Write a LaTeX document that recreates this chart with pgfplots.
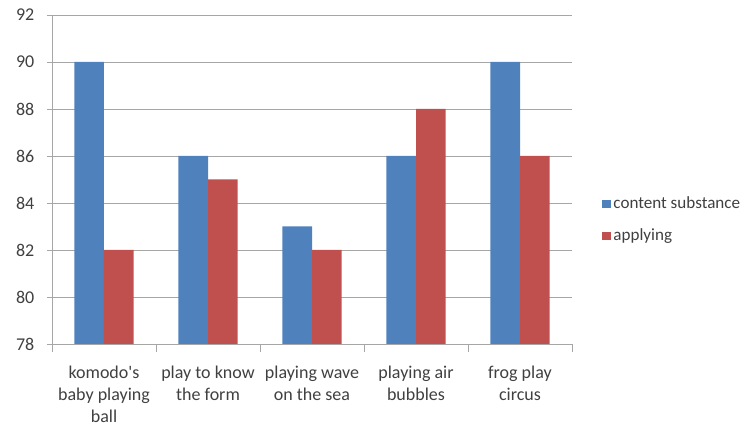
\documentclass[border=0pt]{standalone}
\usepackage{fontspec}
\setmainfont{Carlito}
\newfontfamily\plainfont{Carlito}
\usepackage{pgfplots}
\pgfplotsset{compat=1.18}
\definecolor{cblue}{HTML}{4F81BD}
\definecolor{cred}{HTML}{C0504D}
\definecolor{ctext}{HTML}{404040}
\definecolor{cgrid}{HTML}{A6A6A6}
\begin{document}
\begin{tikzpicture}[x=0.75pt,y=0.75pt]
\path[use as bounding box] (-52,-83) rectangle (695,344);
\begin{axis}[
  at={(0,0)}, anchor=south west,
  scale only axis,
  width=390pt, height=246.75pt,
  xmin=0.5, xmax=5.5,
  ymin=78, ymax=92,
  ytick={78,80,...,92},
  xtick={1,2,3,4,5},
  minor xtick={0.5,1.5,...,5.5},
  xticklabels={{{\plainfont komodo's}\\baby playing\\ball},{play to know\\the form},{playing wave\\on the sea},{playing air\\bubbles},{frog play\\circus}},
  axis lines*=left,
  axis line style={cgrid},
  ymajorgrids,
  grid style={cgrid, line width=0.6pt},
  tick align=outside,
  major tick length=3.75pt,
  minor tick length=6pt,
  major x tick style={draw=none},
  every tick/.style={cgrid},
  minor x tick style={cgrid},
  /pgf/number format/assume math mode=true,
  ticklabel style={font=\fontsize{13.5}{16.5}\selectfont, text=ctext},
  xticklabel style={align=center, yshift=-9pt},
  yticklabel style={xshift=-6pt},
  legend style={at={(1.050,0.377)}, anchor=west, draw=none, fill=none,
    font=\fontsize{12.8}{15}\selectfont, text=ctext, row sep=9.5pt},
  legend cell align=left,
  legend image code/.code={\fill (0pt,-3.2pt) rectangle (6.4pt,3.2pt);},
]
\addplot[ybar, bar width=0.284, bar shift=-0.142, fill=cblue, draw=none]
  coordinates {(1,90) (2,86) (3,83) (4,86) (5,90)};
\addlegendentry{content substance}
\addplot[ybar, bar width=0.284, bar shift=0.142, fill=cred, draw=none]
  coordinates {(1,82) (2,85) (3,82) (4,88) (5,86)};
\addlegendentry{applying}
\end{axis}
\end{tikzpicture}
\end{document}
